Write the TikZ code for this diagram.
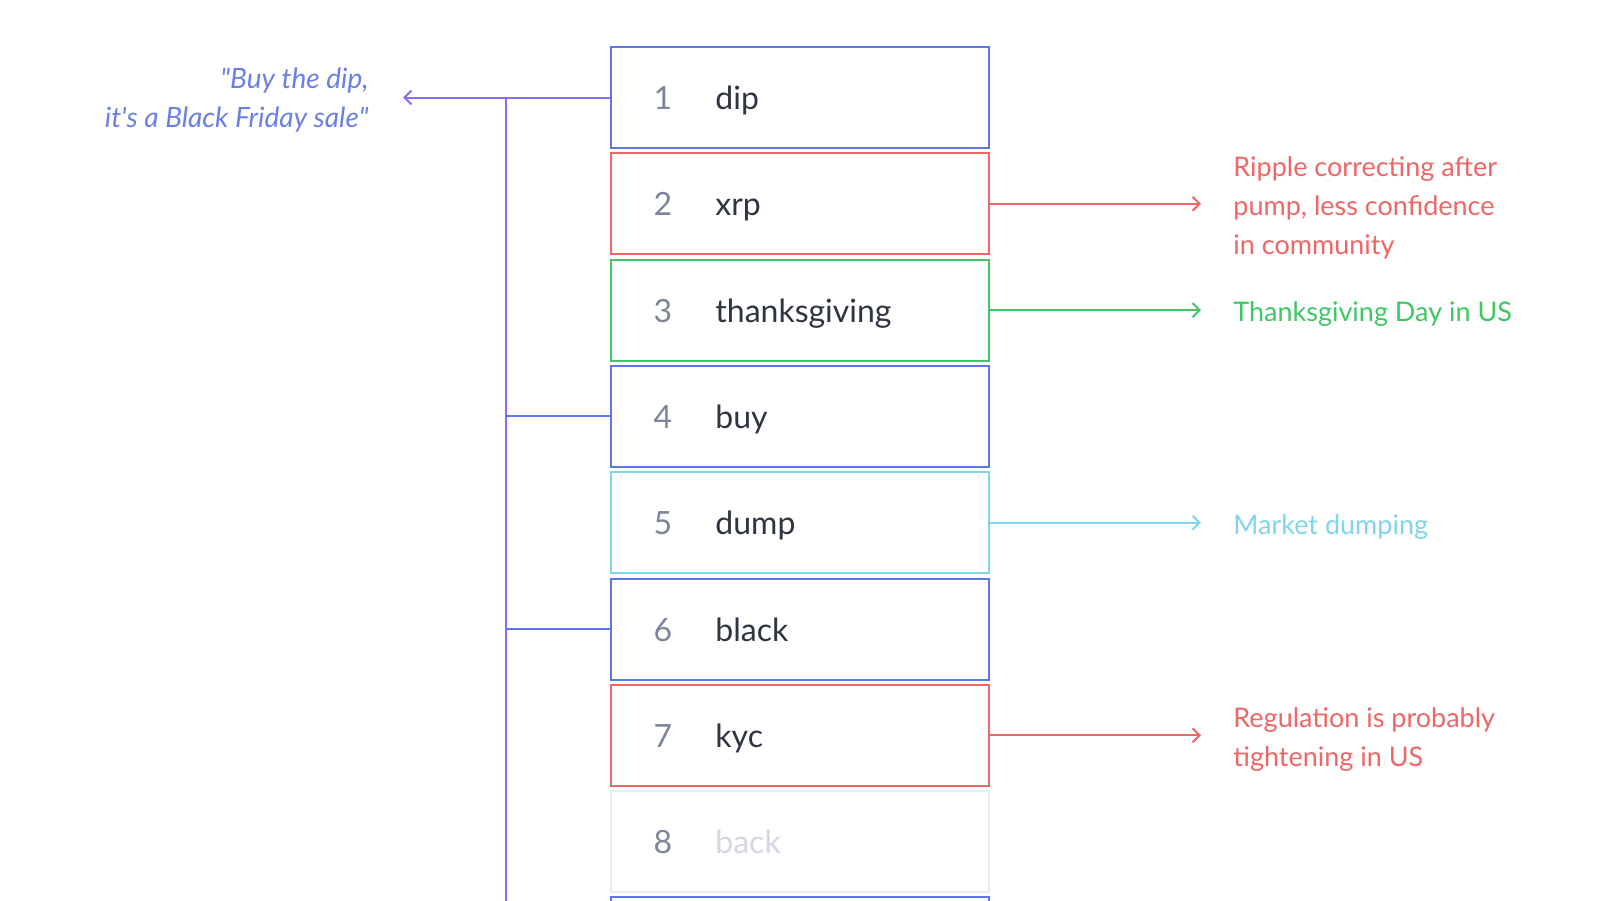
\documentclass[tikz,border=0pt]{standalone}
\usepackage{fontspec}
\setmainfont{Lato}
\usetikzlibrary{arrows.meta}
\definecolor{cblue}{HTML}{5B78E6}
\definecolor{cred}{HTML}{EE6666}
\definecolor{cgreen}{HTML}{3FC764}
\definecolor{ccyan}{HTML}{7FD6EC}
\definecolor{cpurple}{HTML}{8A6CF0}
\definecolor{cquote}{HTML}{6B80E4}
\definecolor{cnum}{HTML}{7C8699}
\definecolor{cword}{HTML}{2E3440}
\definecolor{cfaint}{HTML}{D3D7E2}
\definecolor{cfaintbox}{HTML}{EAECF2}
\tikzset{
  rowbox/.style={draw, line width=1pt, minimum width=189pt, minimum height=50.5pt, inner sep=0pt, fill=white},
  numlbl/.style={text=cnum, font=\fontsize{16}{19}\selectfont, inner sep=0pt, anchor=base},
  wordlbl/.style={text=cword, font=\fontsize{16}{19}\selectfont, inner sep=0pt, anchor=base west},
  note/.style={inner sep=0pt, anchor=west, align=left, font=\fontsize{13.5}{19.5}\selectfont},
  conn/.style={line width=1pt},
  tip/.style={-{Straight Barb[length=3.5pt,width=7pt,line width=1pt]}}
}
\begin{document}
\begin{tikzpicture}[x=0.5pt,y=-0.5pt]
\useasboundingbox (0,0) rectangle (1600,900);
\clip (0,0) rectangle (1600,900);
\fill[white] (0,0) rectangle (1600,900);
% rows
\foreach \i/\c/\n/\w/\wc in {1/cblue/1/dip/cword,2/cred/2/xrp/cword,3/cgreen/3/thanksgiving/cword,4/cblue/4/buy/cword,5/ccyan/5/dump/cword,6/cblue/6/black/cword,7/cred/7/kyc/cword,8/cfaintbox/8/back/cfaint}{
  \node[rowbox, draw=\c] (b\i) at (800,{97.5+(\i-1)*106.3}) {};
  \node[numlbl] (n\i) at (663,{109.5+(\i-1)*106.3}) {\n};
  \node[wordlbl, text=\wc] (w\i) at (715,{109.5+(\i-1)*106.3}) {\w};
}
\node[rowbox, draw=cblue] (b9) at (800,{97.5+8*106.3}) {};
% left side
\node[note, anchor=east, align=right, text=cquote, font=\fontsize{14}{19.25}\selectfont\itshape] (q) at (369,100) {\textquotedbl Buy the dip,\\it\textquotesingle s a Black Friday sale\textquotedbl};
\coordinate (qa) at (403,97.5);
\coordinate (t1) at (506,97.5);
\coordinate (tend) at (506,910);
\draw[conn, cpurple, tip] (b1.west) -- (qa);
\draw[conn, cpurple] (t1) -- (tend);
\draw[conn, cblue] (b4.west) -- (b4.west -| t1);
\draw[conn, cblue] (b6.west) -- (b6.west -| t1);
% right side
\node[note, text=cred] (r2) at (1233,{101.5+1*106.3}) {Ripple correcting after\\pump, less confidence\\in community};
\node[note, text=cgreen] (r3) at (1233,{101.5+2*106.3}) {Thanksgiving Day in US};
\node[note, text=ccyan] (r5) at (1233,{101.5+4*106.3}) {Market dumping};
\node[note, text=cred] (r7) at (1233,{101.5+6*106.3}) {Regulation is probably\\tightening in US};
\draw[conn, cred, tip] (b2.east) -- ([xshift=-16pt]r2.west |- b2.east);
\draw[conn, cgreen, tip] (b3.east) -- ([xshift=-16pt]r3.west |- b3.east);
\draw[conn, ccyan, tip] (b5.east) -- ([xshift=-16pt]r5.west |- b5.east);
\draw[conn, cred, tip] (b7.east) -- ([xshift=-16pt]r7.west |- b7.east);
\end{tikzpicture}
\end{document}
